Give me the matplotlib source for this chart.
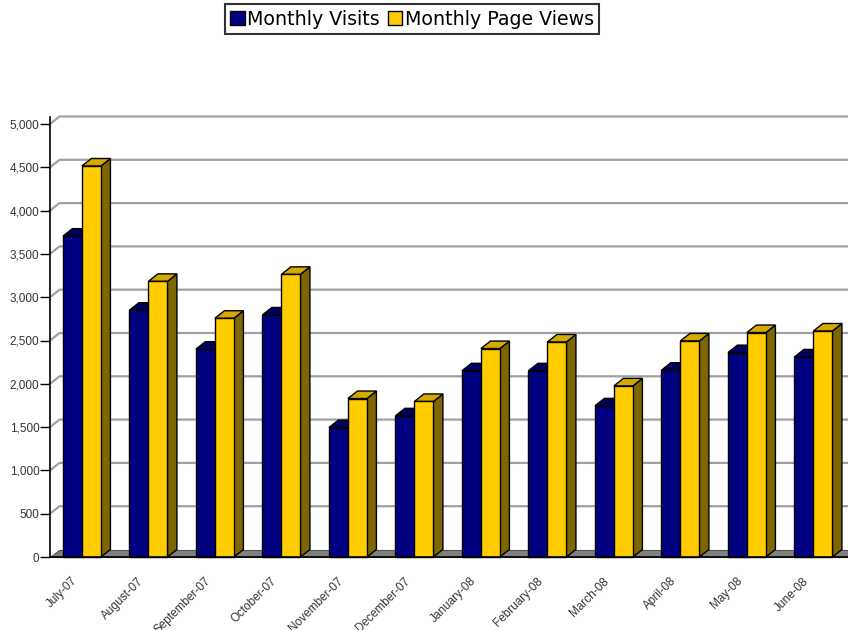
import numpy as np
import matplotlib
matplotlib.use("Agg")
from matplotlib import pyplot as plt
from matplotlib.patches import Polygon, Rectangle, Patch
from matplotlib.ticker import FuncFormatter

# data
months = ["July-07", "August-07", "September-07", "October-07", "November-07",
          "December-07", "January-08", "February-08", "March-08", "April-08",
          "May-08", "June-08"]
visits = [3705, 2850, 2400, 2795, 1495, 1630, 2150, 2150, 1745, 2157, 2360, 2310]
page_views = [4515, 3183, 2757, 3264, 1830, 1796, 2407, 2483, 1976, 2495, 2592, 2610]
series_names = ["Monthly Visits", "Monthly Page Views"]

# colours: front, top, side
navy = ("#000080", "#00005e", "#000040")
gold = ("#FFCC00", "#D4A900", "#806600")

W, H = 848, 630
fig = plt.figure(figsize=(W / 100, H / 100), dpi=100)

# axes placed so value 0 sits at y=557px and 5000 at y=124px
x0_px, y0_px, ytop_px = 50, 557, 124
ax = fig.add_axes([x0_px / W, (H - y0_px) / H, 1 - x0_px / W, (y0_px - ytop_px) / H])
xmin, xmax = -0.48, 11.52
ymax = 5000
ax.set_xlim(xmin, xmax)
ax.set_ylim(0, ymax)

px_x = (xmax - xmin) / (W - x0_px)      # data units per pixel (x)
px_y = ymax / (y0_px - ytop_px)         # data units per pixel (y)
dx = 9.5 * px_x                          # 3D depth offset
dy = 7.5 * px_y
w = 19 * px_x                            # bar width

for s in ax.spines.values():
    s.set_visible(False)

# back wall grid lines
ticks = np.arange(0, ymax + 1, 500)
for v in ticks[1:]:
    ax.plot([xmin, xmin + dx, xmax], [v, v + dy, v + dy], color="#a0a0a0",
            lw=1.6, clip_on=False, zorder=1)

# floor
floor = Polygon([(xmin, 0), (xmax + 1, 0), (xmax + 1, dy), (xmin + dx, dy)],
                closed=True, facecolor="#808080", edgecolor="#555555", lw=0.8,
                clip_on=False, zorder=2)
ax.add_patch(floor)


def bar3d(x_left, v, cols):
    front, top, side = cols
    ax.add_patch(Polygon([(x_left + w, 0), (x_left + w + dx, dy),
                          (x_left + w + dx, v + dy), (x_left + w, v)],
                         facecolor=side, edgecolor="black", lw=1, zorder=3, clip_on=False))
    ax.add_patch(Polygon([(x_left, v), (x_left + w, v), (x_left + w + dx, v + dy),
                          (x_left + dx, v + dy)],
                         facecolor=top, edgecolor="black", lw=1, zorder=3, clip_on=False))
    ax.add_patch(Rectangle((x_left, 0), w, v, facecolor=front, edgecolor="black",
                           lw=1, zorder=3, clip_on=False))


for i in range(len(months)):
    bar3d(i - w, visits[i], navy)
    bar3d(i, page_views[i], gold)

# axis lines
ax.plot([xmin, xmin], [0, ymax + dy], color="black", lw=1.2, clip_on=False, zorder=4)
ax.plot([xmin, xmax], [0, 0], color="black", lw=1.2, clip_on=False, zorder=4)

ax.set_yticks(ticks)
ax.yaxis.set_major_formatter(FuncFormatter(lambda v, p: f"{int(v):,}"))
ax.tick_params(axis="y", length=7.2, width=1, direction="out", pad=0.5,
               labelsize=8.5, labelcolor="#333333")
for t in ax.get_yticklabels():
    t.set_family("Liberation Sans")

ax.set_xticks(np.arange(len(months)) - 0.16)
ax.set_xticklabels(months, rotation=45, ha="right", va="top",
                   rotation_mode="anchor", fontsize=8.5, color="#333333",
                   family="Liberation Sans")
ax.tick_params(axis="x", length=0, pad=13)

handles = [Patch(facecolor=navy[0], edgecolor="black", lw=1),
           Patch(facecolor=gold[0], edgecolor="black", lw=1)]
leg = fig.legend(handles, series_names, loc="upper center", ncol=2,
                 bbox_to_anchor=(412 / W, 1 - 4 / H), fontsize=13.7,
                 frameon=True, fancybox=False, edgecolor="black",
                 handlelength=0.75, handleheight=0.75, handletextpad=0.15,
                 columnspacing=0.4, borderpad=0.3, borderaxespad=0)
leg.get_frame().set_linewidth(1.5)

fig.savefig("out.png", dpi=100)
